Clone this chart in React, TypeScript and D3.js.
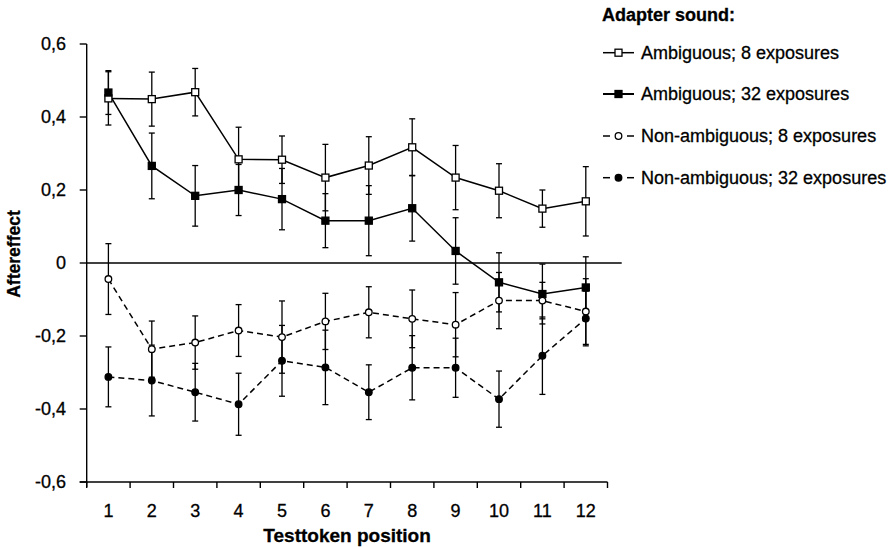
import React from "react";
import * as d3 from "d3";

const positions = [1, 2, 3, 4, 5, 6, 7, 8, 9, 10, 11, 12];
const yTicks = [-0.6, -0.4, -0.2, 0, 0.2, 0.4, 0.6];
const yTickLabels = ["-0,6", "-0,4", "-0,2", "0", "0,2", "0,4", "0,6"];

const ambig8 = [0.451, 0.449, 0.468, 0.284, 0.283, 0.234, 0.267, 0.317, 0.234, 0.198, 0.149, 0.169];
const ambig8Err = [0.073, 0.074, 0.065, 0.088, 0.065, 0.091, 0.079, 0.078, 0.088, 0.074, 0.051, 0.095];
const ambig32 = [0.467, 0.266, 0.184, 0.2, 0.175, 0.116, 0.116, 0.15, 0.033, -0.053, -0.085, -0.067];
const ambig32Err = [0.06, 0.09, 0.083, 0.07, 0.084, 0.074, 0.096, 0.09, 0.091, 0.081, 0.082, 0.084];
const nonAmbig8 = [-0.044, -0.236, -0.218, -0.185, -0.203, -0.16, -0.135, -0.153, -0.169, -0.103, -0.103, -0.133];
const nonAmbig8Err = [0.097, 0.077, 0.073, 0.071, 0.099, 0.077, 0.07, 0.079, 0.088, 0.077, 0.05, 0.09];
const nonAmbig32 = [-0.312, -0.322, -0.354, -0.387, -0.268, -0.286, -0.354, -0.287, -0.287, -0.373, -0.254, -0.152];
const nonAmbig32Err = [0.082, 0.097, 0.079, 0.085, 0.097, 0.102, 0.075, 0.088, 0.081, 0.077, 0.106, 0.075];

const seriesNames = [
  "Ambiguous; 8 exposures",
  "Ambiguous; 32 exposures",
  "Non-ambiguous; 8 exposures",
  "Non-ambiguous; 32 exposures",
];

const series = [
  { name: seriesNames[0], values: ambig8, errs: ambig8Err, shape: "square", filled: false, dashed: false },
  { name: seriesNames[1], values: ambig32, errs: ambig32Err, shape: "square", filled: true, dashed: false },
  { name: seriesNames[2], values: nonAmbig8, errs: nonAmbig8Err, shape: "circle", filled: false, dashed: true },
  { name: seriesNames[3], values: nonAmbig32, errs: nonAmbig32Err, shape: "circle", filled: true, dashed: true },
];

const font = "'Liberation Sans', Arial, sans-serif";

function Marker({ x, y, shape, filled }: any) {
  if (shape === "square")
    return <rect x={x - 3.5} y={y - 3.5} width={7} height={7} fill={filled ? "black" : "white"} stroke="black" strokeWidth={1.3} />;
  return <circle cx={x} cy={y} r={3.3} fill={filled ? "black" : "white"} stroke="black" strokeWidth={1.3} />;
}

export default function App() {
  const width = 888;
  const height = 547;
  const left = 86.7;
  const right = 607.5;
  const top = 44;
  const bottom = 482;

  const x = d3.scaleBand<number>().domain(positions).range([left, right]).padding(0);
  const bw = x.bandwidth();
  const cx = (p: number) => (x(p) as number) + bw / 2;
  const y = d3.scaleLinear().domain([-0.6, 0.6]).range([bottom, top]);

  const line = d3.line<number>().x((_, i) => cx(positions[i])).y((v) => y(v));

  const legendX = 603;
  const legendRows = [52.7, 94, 136, 177.7];

  return (
    <svg width={width} height={height} style={{ position: "absolute", left: 0, top: 0, background: "white" }}>
      {/* axes */}
      <g stroke="black" strokeWidth={1.4} fill="none">
        <path d={`M${left},${top} V${bottom + 5}`} />
        <path d={`M${left - 7},${bottom} H${right}`} />
        <path d={`M${left},${y(0)} H${621.7}`} />
        {yTicks.map((t) => (
          <path key={t} d={`M${left - 7},${y(t)} H${left}`} />
        ))}
        {positions.map((p) => (
          <path key={p} d={`M${x(p)},${bottom} v6`} />
        ))}
        <path d={`M${right},${bottom} v6`} />
      </g>

      <g fontFamily={font} fontSize={18} fill="black" stroke="black" strokeWidth={0.3}>
        {yTicks.map((t, i) => (
          <text key={t} x={66} y={y(t) + 6} textAnchor="end">
            {yTickLabels[i]}
          </text>
        ))}
        {positions.map((p) => (
          <text key={p} x={cx(p)} y={517} textAnchor="middle">
            {p}
          </text>
        ))}
        <text x={(left + right) / 2} y={542} textAnchor="middle" fontWeight="bold" fontSize={19}>
          Testtoken position
        </text>
        <text transform={`translate(20,${y(0) - 9}) rotate(-90)`} textAnchor="middle" fontWeight="bold" fontSize={17.5}>
          Aftereffect
        </text>
      </g>

      {/* error bars */}
      <g stroke="black" strokeWidth={1.3}>
        {series.map((s, si) =>
          s.values.map((v, i) => {
            const px = cx(positions[i]);
            const y1 = y(v + s.errs[i]);
            const y2 = y(v - s.errs[i]);
            return (
              <g key={`${si}-${i}`}>
                <line x1={px} x2={px} y1={y1} y2={y2} />
                <line x1={px - 3} x2={px + 3} y1={y1} y2={y1} />
                <line x1={px - 3} x2={px + 3} y1={y2} y2={y2} />
              </g>
            );
          })
        )}
      </g>

      {/* lines */}
      {series.map((s, si) => (
        <path key={si} d={line(s.values) as string} fill="none" stroke="black" strokeWidth={1.5} strokeDasharray={s.dashed ? "6,4" : undefined} />
      ))}

      {/* markers */}
      {series.map((s, si) =>
        s.values.map((v, i) => <Marker key={`${si}-${i}`} x={cx(positions[i])} y={y(v)} shape={s.shape} filled={s.filled} />)
      )}

      {/* legend */}
      <g fontFamily={font} fontSize={18} fill="black">
        <text x={602} y={21} fontWeight="bold" stroke="black" strokeWidth={0.3}>
          Adapter sound:
        </text>
        {series.map((s, i) => (
          <g key={s.name}>
            {s.dashed ? (
              <g stroke="black" strokeWidth={1.5}>
                <line x1={legendX} x2={legendX + 7} y1={legendRows[i]} y2={legendRows[i]} />
                <line x1={legendX + 24} x2={legendX + 31} y1={legendRows[i]} y2={legendRows[i]} />
              </g>
            ) : (
              <line x1={legendX} x2={legendX + 31} y1={legendRows[i]} y2={legendRows[i]} stroke="black" strokeWidth={s.filled ? 2 : 1.5} />
            )}
            <Marker x={legendX + 15.5} y={legendRows[i]} shape={s.shape} filled={s.filled} />
            <text x={641} y={legendRows[i] + 6} stroke="black" strokeWidth={0.3}>
              {s.name}
            </text>
          </g>
        ))}
      </g>
    </svg>
  );
}
